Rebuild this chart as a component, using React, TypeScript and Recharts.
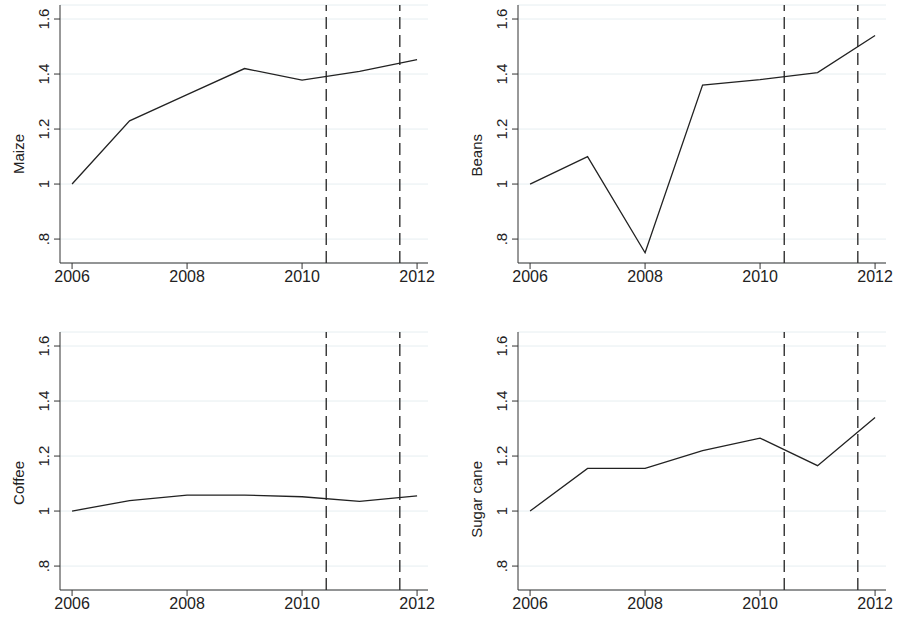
import React from "react";
import { LineChart, Line, XAxis, YAxis, CartesianGrid, ReferenceLine } from "recharts";

const years = [2006, 2007, 2008, 2009, 2010, 2011, 2012];
const maize = [1, 1.23, 1.325, 1.42, 1.378, 1.41, 1.452];
const beans = [1, 1.1, 0.75, 1.36, 1.38, 1.405, 1.54];
const coffee = [1, 1.038, 1.058, 1.058, 1.052, 1.035, 1.055];
const sugarCane = [1, 1.155, 1.155, 1.22, 1.265, 1.165, 1.34];
const xTicks = [2006, 2008, 2010, 2012];
const yTicks = [0.8, 1, 1.2, 1.4, 1.6];
const breaks = [2010.42, 2011.7];

const font = "'Liberation Sans', Arial, sans-serif";

const fmt = (v: number) => (v === 1 ? "1" : v < 1 ? String(v).replace("0.", ".") : String(v));

function YTick(props: any) {
  const { x, y, payload } = props;
  return (
    <text x={x - 3} y={y} transform={`rotate(-90, ${x - 3}, ${y})`} textAnchor="middle" fontSize={15} fill="#222" fontFamily={font}>
      {fmt(payload.value)}
    </text>
  );
}

function Panel({ name, values, left, top }: { name: string; values: number[]; left: number; top: number }) {
  const data = years.map((y, i) => ({ year: y, v: values[i] }));
  return (
    <div style={{ position: "absolute", left, top }}>
      <LineChart width={450} height={310} data={data} margin={{ top: 5, right: 22, left: 30, bottom: 17 }}>
        <CartesianGrid horizontal vertical={false} stroke="#e6eef1" />
        <XAxis
          dataKey="year"
          type="number"
          domain={[2005.79, 2012.19]}
          ticks={xTicks}
          allowDataOverflow
          height={30}
          tick={{ fontSize: 16, fill: "#222", fontFamily: font }}
          stroke="#333"
          tickSize={6}
        />
        <YAxis
          type="number"
          domain={[0.713, 1.651]}
          ticks={yTicks}
          allowDataOverflow
          width={30}
          tick={<YTick />}
          stroke="#333"
          tickSize={6}
          label={{ value: name, angle: -90, position: "left", offset: 11, fontSize: 15, fill: "#222", fontFamily: font }}
        />
        {breaks.map((b) => (
          <ReferenceLine key={b} x={b} stroke="#222" strokeDasharray="12 6" strokeWidth={1.3} />
        ))}
        <Line dataKey="v" stroke="#222" strokeWidth={1.3} dot={false} isAnimationActive={false} />
      </LineChart>
    </div>
  );
}

export default function App() {
  return (
    <div style={{ position: "absolute", left: 0, top: 0, width: 898, height: 625, background: "#fff" }}>
      <Panel name="Maize" values={maize} left={0} top={0} />
      <Panel name="Beans" values={beans} left={458} top={0} />
      <Panel name="Coffee" values={coffee} left={0} top={327} />
      <Panel name="Sugar cane" values={sugarCane} left={458} top={327} />
    </div>
  );
}
